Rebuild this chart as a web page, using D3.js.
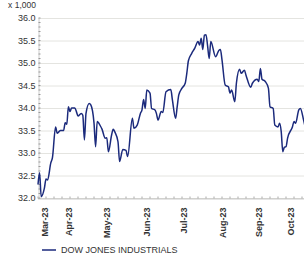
<!DOCTYPE html>
<html>
<head>
<meta charset="utf-8">
<script src="https://cdn.jsdelivr.net/npm/d3@7"></script>
<style>
  body { margin: 0; background: #fff; }
  svg { display: block; font-family: "Liberation Sans", Arial, sans-serif; }
</style>
</head>
<body>
<svg id="chart" width="304" height="267"></svg>
<script>
// trading session index and index level (x 1,000)
const sessions = [0, 1, 2, 4, 5, 6, 8, 9, 11, 12, 13, 14, 16, 17, 18, 19, 20, 21, 23, 24,
  25, 27, 28, 29, 30, 32, 33, 35, 36, 37, 39, 40, 42, 43, 44, 46, 47, 48, 50, 51,
  53, 55, 56, 59, 60, 62, 64, 65, 66, 67, 68, 70, 71, 73, 74, 75, 77, 78, 80, 83,
  84, 86, 87, 88, 90, 92, 93, 94, 96, 98, 100, 101, 102, 103, 104, 105, 106, 107, 108, 111,
  113, 114, 115, 117, 119, 120, 121, 123, 124, 126, 127, 129, 130, 133, 134, 137, 138, 139, 140, 142,
  144, 145, 147, 148, 150, 151, 152, 153, 154, 155, 156, 159, 160, 161, 163, 164, 166, 168];
const values = [32.30, 32.56, 32.03, 32.22, 32.42, 32.40, 32.78, 32.89, 33.58, 33.44, 33.47, 33.50, 33.50, 33.67, 33.64, 34.03, 33.92, 34.00, 34.00, 33.92,
  33.82, 33.88, 33.84, 33.29, 33.88, 34.10, 34.07, 33.67, 33.14, 33.70, 33.60, 33.53, 33.33, 33.34, 33.03, 33.40, 33.53, 33.47, 33.25, 32.81,
  33.08, 33.06, 32.92, 33.77, 33.55, 33.62, 33.88, 33.96, 34.19, 33.99, 34.40, 34.33, 33.99, 33.96, 33.88, 33.73, 33.92, 33.90, 34.36, 34.41,
  34.18, 33.77, 34.03, 34.29, 34.44, 34.55, 34.77, 35.05, 35.21, 35.33, 35.48, 35.40, 35.55, 35.30, 35.62, 35.63, 35.38, 35.10, 35.48, 35.14,
  35.28, 35.30, 35.07, 34.51, 34.47, 34.33, 34.40, 34.14, 34.55, 34.86, 34.77, 34.84, 34.73, 34.46, 34.55, 34.64, 34.59, 34.88, 34.64, 34.59,
  34.44, 34.03, 33.99, 33.62, 33.58, 33.66, 33.48, 33.03, 33.13, 33.14, 33.33, 33.58, 33.70, 33.66, 33.96, 33.99, 33.73, 33.40];

const monthTicks = [4, 19, 43, 68, 91, 115, 138, 158];
const monthLabels = ["Mar-23", "Apr-23", "May-23", "Jun-23", "Jul-23", "Aug-23", "Sep-23", "Oct-23"];
const yTicks = [32.0, 32.5, 33.0, 33.5, 34.0, 34.5, 35.0, 35.5, 36.0];
const seriesName = "DOW JONES INDUSTRIALS";

const svg = d3.select("#chart");
const plotLeft = 38, plotTop = 18, plotBottom = 198;

const x = d3.scaleLinear().domain([0, 170]).range([plotLeft, plotLeft + 170 * 1.6]);
const y = d3.scaleLinear().domain([32, 36]).range([plotBottom, plotTop]);

// gridlines
svg.append("g")
  .selectAll("line")
  .data(yTicks)
  .join("line")
  .attr("x1", plotLeft)
  .attr("x2", 304)
  .attr("y1", d => y(d) + 0.5)
  .attr("y2", d => y(d) + 0.5)
  .attr("stroke", "#e4e4e0")
  .attr("stroke-width", 1);

// y axis
const yAxis = svg.append("g")
  .attr("transform", `translate(${plotLeft + 0.5},0)`)
  .call(d3.axisLeft(y).tickValues(yTicks).tickFormat(d3.format(".1f")).tickSize(0).tickPadding(3));
yAxis.select(".domain").attr("stroke", "#999").attr("stroke-dasharray", "1,1");
yAxis.selectAll("text")
  .attr("fill", "#333")
  .style("font-size", "9px");
yAxis.append("g")
  .selectAll("line")
  .data(d3.range(32, 36.01, 0.1))
  .join("line")
  .attr("x1", 0).attr("x2", 2)
  .attr("y1", d => y(d)).attr("y2", d => y(d))
  .attr("stroke", "#999");

svg.append("text")
  .attr("x", 36)
  .attr("y", 8)
  .attr("text-anchor", "end")
  .attr("fill", "#333")
  .style("font-size", "8.5px")
  .text("x 1,000");

// x axis
const xAxis = svg.append("g")
  .attr("transform", `translate(0,${plotBottom + 0.5})`)
  .call(d3.axisBottom(x).tickValues(monthTicks).tickFormat((d, i) => monthLabels[i]).tickSize(0).tickPadding(0));
xAxis.select(".domain").attr("stroke", "#999").attr("stroke-dasharray", "1,1");
xAxis.selectAll("text")
  .attr("fill", "#333")
  .style("font-size", "9px")
  .style("font-weight", "bold")
  .attr("text-anchor", "end")
  .attr("dy", "0.35em")
  .attr("transform", "translate(0,9) rotate(-90)")
  .attr("x", 0).attr("y", 0);
xAxis.append("g")
  .selectAll("line")
  .data(d3.range(0, 170, 5))
  .join("line")
  .attr("x1", d => x(d)).attr("x2", d => x(d))
  .attr("y1", 0).attr("y2", -2)
  .attr("stroke", "#aaa");

// series line
const line = d3.line()
  .x((d, i) => x(sessions[i]))
  .y(d => y(d))
  .curve(d3.curveMonotoneX);

svg.append("path")
  .datum(values)
  .attr("fill", "none")
  .attr("stroke", "#1b2a7c")
  .attr("stroke-width", 1.5)
  .attr("stroke-linejoin", "round")
  .attr("d", line);

// legend
const legend = svg.append("g").attr("transform", "translate(42,250)");
legend.append("line")
  .attr("x1", 0).attr("x2", 14)
  .attr("stroke", "#1b2a7c").attr("stroke-width", 1.5);
legend.append("text")
  .attr("x", 19)
  .attr("dy", "0.35em")
  .attr("fill", "#333")
  .style("font-size", "9px")
  .text(seriesName);
</script>
</body>
</html>
